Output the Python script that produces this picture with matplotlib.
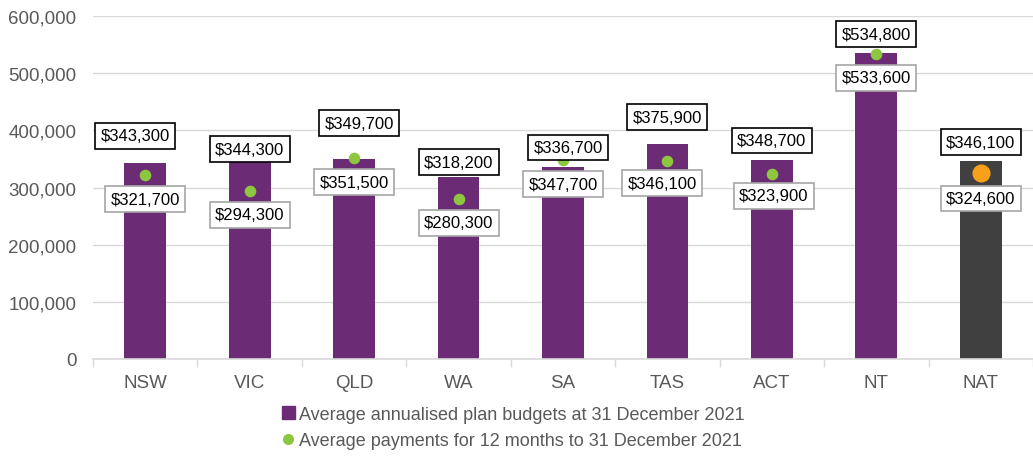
import matplotlib

matplotlib.use("Agg")

import matplotlib.pyplot as plt  # noqa: E402
import numpy as np  # noqa: E402
from matplotlib.lines import Line2D  # noqa: E402
from matplotlib.patches import Patch  # noqa: E402

# Données
regions = ["NSW", "VIC", "QLD", "WA", "SA", "TAS", "ACT", "NT", "NAT"]
budgets = [343300, 344300, 349700, 318200, 336700, 375900, 348700, 534800, 346100]
payments = [321700, 294300, 351500, 280300, 347700, 346100, 323900, 533600, 324600]
budget_label = "Average annualised plan budgets at 31 December 2021"
payment_label = "Average payments for 12 months to 31 December 2021"

# Décalages des étiquettes (pixels), placées à la main comme dans l'original
budget_offsets = [(-10, 27), (0, 13), (5, 36), (0, 15), (5, 19), (0, 27), (0, 19), (0, 19), (0, 19)]
payment_offsets = [(0, -24), (0, -24), (0, -24), (0, -24), (0, -24), (-5, -22), (2, -22), (0, -24), (0, -25)]

PURPLE = "#6B2C75"
GREEN = "#8DC63F"
DARK = "#404040"
ORANGE = "#F7A11A"
GREY_TXT = "#595959"
GRID = "#D9D9D9"

plt.rcParams["font.family"] = ["Liberation Sans", "DejaVu Sans"]

fig = plt.figure(figsize=(10.33, 4.6), dpi=100)
ax = fig.add_axes([93 / 1033, 100 / 460, 1 - 93 / 1033, 343 / 460])

x = np.arange(len(regions))
colors = [PURPLE] * (len(regions) - 1) + [DARK]
ax.bar(x, budgets, width=0.4, color=colors, zorder=2)

ax.scatter(x[:-1], payments[:-1], s=70, color=GREEN, zorder=3, linewidths=0)
ax.scatter(x[-1:], payments[-1:], s=170, color=ORANGE, zorder=3, linewidths=0)

for i in range(len(regions)):
    ax.annotate(
        f"${budgets[i]:,}", (x[i], budgets[i]), xytext=budget_offsets[i],
        textcoords="offset pixels", ha="center", va="center", fontsize=12,
        bbox=dict(boxstyle="square,pad=0.32", fc="white", ec="black", lw=1.2),
        zorder=5,
    )
    ax.annotate(
        f"${payments[i]:,}", (x[i], payments[i]), xytext=payment_offsets[i],
        textcoords="offset pixels", ha="center", va="center", fontsize=12,
        bbox=dict(boxstyle="square,pad=0.32", fc="white", ec="#A6A6A6", lw=1.2),
        zorder=5,
    )

ax.set_ylim(0, 600000)
ax.set_xlim(-0.5, 8.45)
ax.set_yticks(np.arange(0, 600001, 100000))
ax.yaxis.set_major_formatter(matplotlib.ticker.FuncFormatter(lambda v, _: f"{int(v):,}"))
ax.set_xticks(x)
ax.set_xticklabels(regions)
ax.set_xticks(np.arange(-0.5, 9, 1), minor=True)
ax.tick_params(axis="x", which="major", length=0, pad=11, labelsize=13.5, labelcolor=GREY_TXT)
ax.tick_params(axis="x", which="minor", length=6, color=GRID, width=1)
ax.tick_params(axis="y", length=0, pad=12, labelsize=13.5, labelcolor=GREY_TXT)
ax.grid(axis="y", color=GRID, lw=1, zorder=0)
for side in ["top", "right", "left"]:
    ax.spines[side].set_visible(False)
ax.spines["bottom"].set_color(GRID)
ax.spines["bottom"].set_linewidth(1.2)

handles = [
    Patch(color=PURPLE, label=budget_label),
    Line2D([], [], marker="o", color=GREEN, lw=0, markersize=7, label=payment_label),
]
fig.legend(
    handles=handles, loc="upper center", bbox_to_anchor=(0.497, 0.135), frameon=False,
    fontsize=13, labelcolor=GREY_TXT, handlelength=0.7, handleheight=0.7,
    handletextpad=0.25, labelspacing=0.5, borderpad=0,
)

fig.savefig("out.png", dpi=100)
plt.close(fig)
